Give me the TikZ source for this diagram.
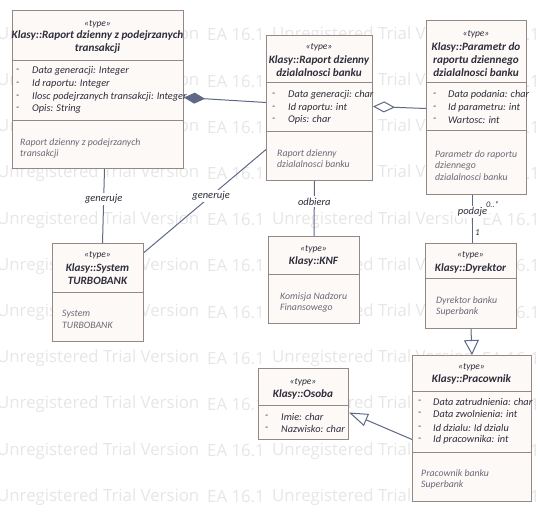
\documentclass[tikz,border=0pt]{standalone}
\usepackage{fontspec}
\setmainfont{Carlito}
\newfontfamily\wmfont{Open Sans}
\usetikzlibrary{arrows.meta}
\definecolor{ramka}{RGB}{150,135,135}
\definecolor{tlo}{RGB}{253,249,246}
\definecolor{linia}{RGB}{95,105,135}
\definecolor{napis}{RGB}{45,45,60}
\definecolor{opisk}{RGB}{105,105,120}
\definecolor{znak}{RGB}{230,230,230}

\begin{document}
\begin{tikzpicture}
	[x=1pt,y=-1pt,every node/.style={inner sep=0pt, text=napis, font=\fontsize{10.3}{12.5}\selectfont\itshape}]
	\tikzstyle{klasa} = [draw=ramka, fill=tlo, line width=1pt, anchor=north west, rectangle];
	\tikzstyle{stereo} = [font=\fontsize{9.5}{10}\selectfont\itshape];
	\tikzstyle{tytul} = [font=\fontsize{11.2}{13}\selectfont\bfseries\itshape, align=center];
	\tikzstyle{atr} = [anchor=west];
	\tikzstyle{opis} = [anchor=north west, align=left, text=opisk, font=\fontsize{9.8}{11.5}\selectfont\itshape];
	\tikzstyle{podzial} = [draw=ramka, line width=1pt];
	\tikzstyle{edges} = [draw=linia, line width=1pt];
	\tikzstyle{etykieta} = [fill=white, inner sep=1.5pt, font=\fontsize{10.5}{11}\selectfont\itshape];
	\tikzstyle{znakwodny} = [anchor=west, text=znak, font=\fontsize{16.8}{16.8}\selectfont\wmfont];

	\useasboundingbox (0,0) rectangle (540,529);

	% znak wodny
	\foreach \i in {0,...,10} {
		\node[znakwodny] (wmA\i) at (-3,35+46.2*\i) {Unregistered Trial Version};
		\node[znakwodny] (wmB\i) at (207,35+46.2*\i) {EA 16.1};
		\node[znakwodny] (wmC\i) at (272,35+46.2*\i) {Unregistered Trial Version};
		\node[znakwodny] (wmD\i) at (482,35+46.2*\i) {EA 16.1};
	}

	% klasy
	\node[klasa, minimum width=171pt, minimum height=158pt] (raportZ) at (12,10) {};
	\node[klasa, minimum width=106pt, minimum height=145pt] (raportB) at (266,35) {};
	\node[klasa, minimum width=100pt, minimum height=174pt] (parametr) at (426,20) {};
	\node[klasa, minimum width=91pt, minimum height=98pt] (system) at (52,243) {};
	\node[klasa, minimum width=91pt, minimum height=87pt] (knf) at (268,236) {};
	\node[klasa, minimum width=91pt, minimum height=85pt] (dyrektor) at (425,243) {};
	\node[klasa, minimum width=119pt, minimum height=146pt] (pracownik) at (412,355) {};
	\node[klasa, minimum width=90pt, minimum height=71pt] (osoba) at (258,368) {};

	\draw[podzial] (12,61) -- (183,61);
	\draw[podzial] (12,121) -- (183,121);
	\draw[podzial] (266,83) -- (372,83);
	\draw[podzial] (266,132) -- (372,132);
	\draw[podzial] (426,83) -- (526,83);
	\draw[podzial] (426,131) -- (526,131);
	\draw[podzial] (52,292) -- (143,292);
	\draw[podzial] (268,274) -- (359,274);
	\draw[podzial] (425,278) -- (516,278);
	\draw[podzial] (412,391) -- (531,391);
	\draw[podzial] (412,452) -- (531,452);
	\draw[podzial] (258,405) -- (348,405);

	% Raport dzienny z podejrzanych transakcji
	\node[stereo] (stZ) at (97.5,24) {«type»};
	\node[tytul] (tZ) at (97.5,42.5) {Klasy::Raport dzienny z podejrzanych\\transakcji};
	\node[atr] (dZ1) at (16,71) {-};
	\node[atr] (aZ1) at (32,71) {Data generacji: Integer};
	\node[atr] (dZ2) at (16,84) {-};
	\node[atr] (aZ2) at (32,84) {Id raportu: Integer};
	\node[atr] (dZ3) at (16,97) {-};
	\node[atr] (aZ3) at (32,97) {Ilosc podejrzanych transakcji: Integer};
	\node[atr] (dZ4) at (16,109) {-};
	\node[atr] (aZ4) at (32,109) {Opis: String};
	\node[opis] (oZ) at (20,138) {Raport dzienny z podejrzanych\\transakcji};

	% Raport dzienny dzialalnosci banku
	\node[stereo] (stB) at (319,47) {«type»};
	\node[tytul] (tB) at (319,66) {Klasy::Raport dzienny\\dzialalnosci banku};
	\node[atr] (dB1) at (272,95) {-};
	\node[atr] (aB1) at (288,95) {Data generacji: char};
	\node[atr] (dB2) at (272,108) {-};
	\node[atr] (aB2) at (288,108) {Id raportu: int};
	\node[atr] (dB3) at (272,120) {-};
	\node[atr] (aB3) at (288,120) {Opis: char};
	\node[opis] (oB) at (277,149) {Raport dzienny\\dzialalnosci banku};

	% Parametr
	\node[stereo] (stP) at (476,34) {«type»};
	\node[tytul] (tP) at (476,60) {Klasy::Parametr do\\raportu dziennego\\dzialalnosci banku};
	\node[atr] (dP1) at (433,95) {-};
	\node[atr] (aP1) at (448,95) {Data podania: char};
	\node[atr] (dP2) at (433,108) {-};
	\node[atr] (aP2) at (448,108) {Id parametru: int};
	\node[atr] (dP3) at (433,120) {-};
	\node[atr] (aP3) at (448,120) {Wartosc: int};
	\node[opis] (oP) at (435,150) {Parametr do raportu\\dziennego\\dzialalnosci banku};

	% System
	\node[stereo] (stS) at (97.5,255) {«type»};
	\node[tytul] (tS) at (97.5,274) {Klasy::System\\TURBOBANK};
	\node[opis] (oS) at (62,310) {System\\TURBOBANK};

	% KNF
	\node[stereo] (stK) at (313.5,249) {«type»};
	\node[tytul] (tK) at (313.5,261) {Klasy::KNF};
	\node[opis] (oK) at (280,292) {Komisja Nadzoru\\Finansowego};

	% Dyrektor
	\node[stereo] (stD) at (470.5,255) {«type»};
	\node[tytul] (tD) at (470.5,268) {Klasy::Dyrektor};
	\node[opis] (oD) at (436,296) {Dyrektor banku\\Superbank};

	% Pracownik
	\node[stereo] (stR) at (471.5,367) {«type»};
	\node[tytul] (tR) at (471.5,379) {Klasy::Pracownik};
	\node[atr] (dR1) at (418,402) {-};
	\node[atr] (aR1) at (433,402) {Data zatrudnienia: char};
	\node[atr] (dR2) at (418,414) {-};
	\node[atr] (aR2) at (433,414) {Data zwolnienia: int};
	\node[atr] (dR3) at (418,428) {-};
	\node[atr] (aR3) at (433,428) {Id dzialu: Id dzialu};
	\node[atr] (dR4) at (418,440) {-};
	\node[atr] (aR4) at (433,440) {Id pracownika: int};
	\node[opis] (oR) at (421,469) {Pracownik banku\\Superbank};

	% Osoba
	\node[stereo] (stO) at (303,382) {«type»};
	\node[tytul] (tO) at (303,394) {Klasy::Osoba};
	\node[atr] (dO1) at (265,417) {-};
	\node[atr] (aO1) at (281,417) {Imie: char};
	\node[atr] (dO2) at (265,429) {-};
	\node[atr] (aO2) at (281,429) {Nazwisko: char};

	% polaczenia
	\draw[edges, {Diamond[length=21pt,width=11pt,fill=linia]}-] ([yshift=-8pt]raportZ.east) -- ([yshift=5.5pt]raportB.west);
	\draw[edges, {Diamond[length=22pt,width=11pt,fill=white]}-] ([yshift=1.5pt]raportB.east) -- ([yshift=-1pt]parametr.west);
	\draw[edges] ([xshift=6.5pt]raportZ.south) -- node[etykieta, pos=0.4] (lG1) {generuje} ([xshift=4.5pt]system.north);
	\draw[edges] ([yshift=-41.5pt]raportB.west) -- node[etykieta, pos=0.45] (lG2) {generuje} ([yshift=40pt]system.east);
	\draw[edges] ([xshift=-5pt]raportB.south) -- node[etykieta, pos=0.375] (lO) {odbiera} (knf.north);
	\draw[edges] ([xshift=-4pt]parametr.south) -- node[etykieta, pos=0.35] (lP) {podaje}
		node[pos=0.2, xshift=20pt, font=\fontsize{8.5}{9}\selectfont\itshape] (lM1) {0..*}
		node[pos=0.78, xshift=5pt, font=\fontsize{9}{9}\selectfont\itshape] (lM2) {1} ([xshift=1.5pt]dyrektor.north);
	\draw[edges, -{Triangle[open, length=15pt, width=15pt, fill=white]}] (dyrektor.south) -- (pracownik.north);
	\draw[edges, -{Triangle[open, length=19pt, width=13pt, fill=white]}] ([yshift=-11pt]pracownik.west) -- ([yshift=-8.5pt]osoba.east);
\end{tikzpicture}
\end{document}
